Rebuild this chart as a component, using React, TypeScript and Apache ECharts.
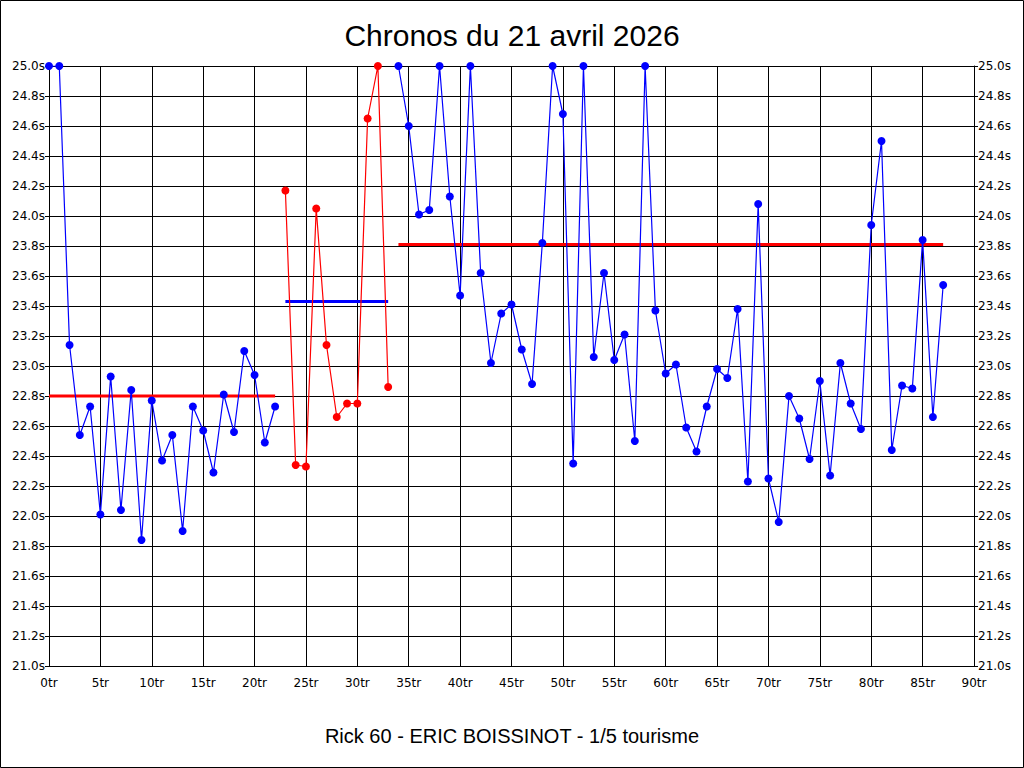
import React, { useEffect, useRef } from "react";
import * as echarts from "echarts";

const titleText = "Chronos du 21 avril 2026";
const subtitleText = "Rick 60 - ERIC BOISSINOT - 1/5 tourisme";

const seg1Start = 0;
const seg1Values = [25.0, 25.0, 23.14, 22.54, 22.73, 22.01, 22.93, 22.04, 22.84, 21.84, 22.77, 22.37, 22.54, 21.90, 22.73, 22.57, 22.29, 22.81, 22.56, 23.10, 22.94, 22.49, 22.73];
const seg1Mean = 22.80;

const seg2Start = 23;
const seg2Values = [24.17, 22.34, 22.33, 24.05, 23.14, 22.66, 22.75, 22.75, 24.65, 25.0, 22.86];
const seg2Mean = 23.43;

const seg3Start = 34;
const seg3Values = [25.0, 24.60, 24.01, 24.04, 25.0, 24.13, 23.47, 25.0, 23.62, 23.02, 23.35, 23.41, 23.11, 22.88, 23.82, 25.0, 24.68, 22.35, 25.0, 23.06, 23.62, 23.04, 23.21, 22.50, 25.0, 23.37, 22.95, 23.01, 22.59, 22.43, 22.73, 22.98, 22.92, 23.38, 22.23, 24.08, 22.25, 21.96, 22.80, 22.65, 22.38, 22.90, 22.27, 23.02, 22.75, 22.58, 23.94, 24.50, 22.44, 22.87, 22.85, 23.84, 22.66, 23.54];
const seg3Mean = 23.81;

const BLUE = "#0000ff";
const RED = "#ff0000";

function pts(start: number, vals: number[]) {
  return vals.map((v, i) => [start + i, v]);
}

function meanLine(start: number, vals: number[], mean: number) {
  return [[start, mean], [start + vals.length - 1, mean]];
}

export default function App() {
  const ref = useRef<HTMLDivElement>(null);
  useEffect(() => {
    document.body.style.margin = "0";
    if (!ref.current) return;
    const chart = echarts.init(ref.current, null, { renderer: "svg" });
    const font = "Liberation Sans";
    const yAxisCommon = {
      type: "value" as const,
      min: 21,
      max: 25,
      interval: 0.2,
      axisLine: { show: true, lineStyle: { color: "#000", width: 1 } },
      axisTick: { show: true, length: 4, lineStyle: { color: "#000" } },
      splitLine: { show: true, lineStyle: { color: "#000", width: 1 } },
      axisLabel: {
        color: "#000",
        fontFamily: "DejaVu Sans",
        fontSize: 12,
        margin: 4,
        formatter: (v: number) => v.toFixed(1) + "s",
      },
    };
    const lineSeries = (data: number[][], color: string) => ({
      type: "line",
      data,
      symbol: "circle",
      symbolSize: 8,
      itemStyle: { color },
      lineStyle: { color, width: 1.2 },
      z: 3,
    });
    const mean = (data: number[][], color: string) => ({
      type: "line",
      data,
      symbol: "none",
      lineStyle: { color, width: 3 },
      z: 2,
    });
    chart.setOption({
      animation: false,
      backgroundColor: "#fff",
      title: [
        {
          text: titleText,
          left: "center",
          top: 15,
          textStyle: { fontFamily: font, fontSize: 30, fontWeight: "normal", color: "#000" },
        },
        {
          text: subtitleText,
          left: "center",
          top: 721,
          textStyle: { fontFamily: font, fontSize: 20, fontWeight: "normal", color: "#000" },
        },
      ],
      graphic: [
        {
          type: "rect",
          shape: { x: 0.5, y: 0.5, width: 1023, height: 767 },
          style: { fill: "none", stroke: "#000", lineWidth: 1 },
          silent: true,
        },
      ],
      grid: { left: 49, right: 50, top: 66, bottom: 102, containLabel: false },
      xAxis: {
        type: "value",
        min: 0,
        max: 90,
        interval: 5,
        axisLine: { show: true, onZero: false, lineStyle: { color: "#000", width: 1 } },
        axisTick: { show: false },
        splitLine: { show: true, lineStyle: { color: "#000", width: 1 } },
        axisLabel: {
          color: "#000",
          fontFamily: "DejaVu Sans",
          fontSize: 12,
          margin: 11,
          formatter: (v: number) => v + "tr",
        },
      },
      yAxis: [
        { ...yAxisCommon, position: "left" },
        { ...yAxisCommon, position: "right", splitLine: { show: false } },
      ],
      series: [
        mean(meanLine(seg1Start, seg1Values, seg1Mean), RED),
        mean(meanLine(seg2Start, seg2Values, seg2Mean), BLUE),
        mean(meanLine(seg3Start, seg3Values, seg3Mean), RED),
        lineSeries(pts(seg1Start, seg1Values), BLUE),
        lineSeries(pts(seg2Start, seg2Values), RED),
        lineSeries(pts(seg3Start, seg3Values), BLUE),
      ],
    });
    return () => chart.dispose();
  }, []);
  return <div ref={ref} style={{ width: 1024, height: 768 }} />;
}
